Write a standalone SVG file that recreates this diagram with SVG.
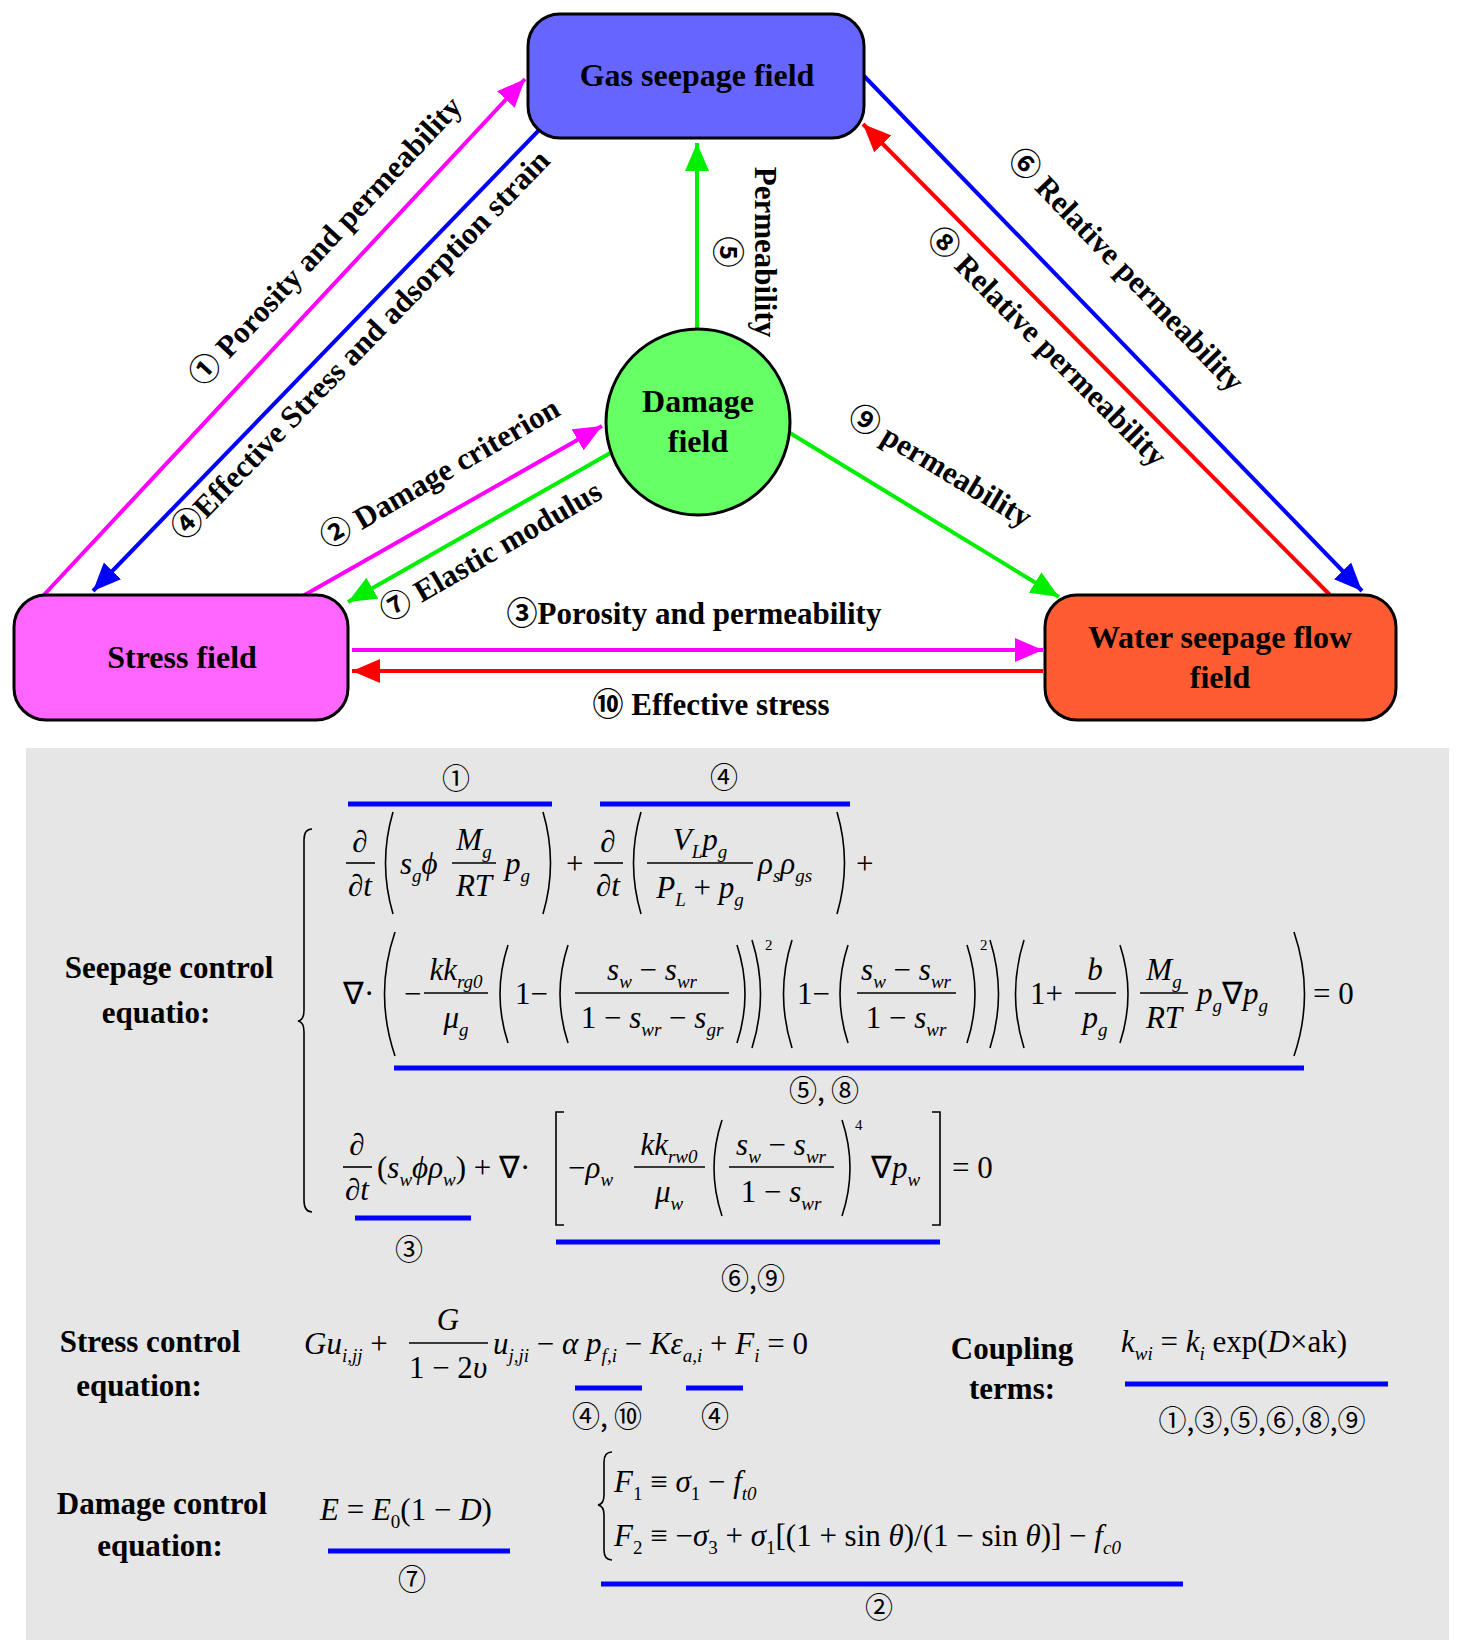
<svg xmlns="http://www.w3.org/2000/svg" width="1457" height="1649" viewBox="0 0 1457 1649">
<style>
.box{stroke:#000;stroke-width:3}
.t{font-family:"Liberation Serif","Noto Sans CJK SC",serif;font-weight:bold;fill:#000}
.nt{font-size:32px;text-anchor:middle}
.lb{font-size:31px;text-anchor:middle}
.m{font-family:"Liberation Serif",serif;font-style:italic;font-size:31px;fill:#000}
.r{font-style:normal}
.c{text-anchor:middle}
.bar{stroke:#000;stroke-width:1.6}
.dl{fill:none;stroke:#000;stroke-width:1.6}
.ul{stroke:#0000ff;stroke-width:5}
.n{font-family:"Noto Sans CJK SC",sans-serif;font-size:28px;fill:#000;text-anchor:middle}
.sub{font-size:19px}
.sup{font-family:"Liberation Serif",serif;font-size:15px;fill:#000}
</style>
<defs>
<marker id="aM" markerUnits="userSpaceOnUse" markerWidth="30" markerHeight="24" refX="28" refY="12" orient="auto"><path d="M0,0 L28,12 L0,24 z" fill="#ff00ff"/></marker>
<marker id="aB" markerUnits="userSpaceOnUse" markerWidth="30" markerHeight="24" refX="28" refY="12" orient="auto"><path d="M0,0 L28,12 L0,24 z" fill="#0000ff"/></marker>
<marker id="aR" markerUnits="userSpaceOnUse" markerWidth="30" markerHeight="24" refX="28" refY="12" orient="auto"><path d="M0,0 L28,12 L0,24 z" fill="#ff0000"/></marker>
<marker id="aG" markerUnits="userSpaceOnUse" markerWidth="30" markerHeight="24" refX="28" refY="12" orient="auto"><path d="M0,0 L28,12 L0,24 z" fill="#00ee00"/></marker>
</defs>
<rect width="1457" height="1649" fill="#fff"/>
<rect x="26" y="748" width="1423" height="892" fill="#e6e6e6"/>

<g id="connectors" stroke-width="4" fill="none">
<line x1="42" y1="597" x2="525" y2="79" stroke="#ff00ff" marker-end="url(#aM)"/>
<line x1="542" y1="127" x2="93" y2="591" stroke="#0000ff" marker-end="url(#aB)"/>
<line x1="301" y1="597" x2="602" y2="426" stroke="#ff00ff" marker-end="url(#aM)"/>
<line x1="612" y1="452" x2="348" y2="602" stroke="#00ee00" marker-end="url(#aG)"/>
<line x1="697" y1="329" x2="697" y2="143" stroke="#00ee00" marker-end="url(#aG)"/>
<line x1="790" y1="433" x2="1059" y2="597" stroke="#00ee00" marker-end="url(#aG)"/>
<line x1="864" y1="76" x2="1362" y2="591" stroke="#0000ff" marker-end="url(#aB)"/>
<line x1="1330" y1="595" x2="863" y2="124" stroke="#ff0000" marker-end="url(#aR)"/>
<line x1="352" y1="650" x2="1043" y2="650" stroke="#ff00ff" marker-end="url(#aM)"/>
<line x1="1043" y1="671" x2="352" y2="671" stroke="#ff0000" marker-end="url(#aR)"/>
</g>

<g id="gas"><rect class="box" x="528" y="14" width="336" height="124" rx="32" fill="#6666ff"/><text class="t nt" x="697" y="86">Gas seepage field</text></g>
<g id="stress"><rect class="box" x="14" y="595" width="334" height="125" rx="32" fill="#ff66ff"/><text class="t nt" x="182" y="668">Stress field</text></g>
<g id="water"><rect class="box" x="1045" y="595" width="351" height="125" rx="32" fill="#ff5c33"/><text class="t nt" x="1220" y="648">Water seepage flow</text><text class="t nt" x="1220" y="688">field</text></g>
<g id="damage"><ellipse class="box" cx="698" cy="422" rx="92" ry="93" fill="#66ff66"/><text class="t nt" x="698" y="412">Damage</text><text class="t nt" x="698" y="452">field</text></g>

<g id="labels">
<text class="t lb" transform="translate(333,248) rotate(-47)">① Porosity and permeability</text>
<text class="t lb" transform="translate(368,352) rotate(-46)">④Effective Stress and adsorption strain</text>
<text class="t lb" transform="translate(445,482) rotate(-30)">② Damage criterion</text>
<text class="t lb" transform="translate(496,560) rotate(-30)">⑦ Elastic modulus</text>
<text class="t lb" transform="translate(755,252) rotate(90)">Permeability</text>
<text class="t lb" transform="translate(717,252) rotate(90)">⑤</text>
<text class="t lb" transform="translate(1119,277) rotate(46)">⑥ Relative permeability</text>
<text class="t lb" transform="translate(1040,354) rotate(45)">⑧ Relative permeability</text>
<text class="t lb" transform="translate(935,475) rotate(31)">⑨ permeability</text>
<text class="t lb" x="694" y="624">③Porosity and permeability</text>
<text class="t lb" x="711" y="715">⑩ Effective stress</text>
</g>

<g id="eqlabels">
<text class="t lb" x="169" y="978">Seepage control</text>
<text class="t lb" x="156" y="1023">equatio:</text>
<text class="t lb" x="150" y="1352">Stress control</text>
<text class="t lb" x="139" y="1396">equation:</text>
<text class="t lb" x="162" y="1514">Damage control</text>
<text class="t lb" x="160" y="1556">equation:</text>
<text class="t lb" x="1012" y="1359">Coupling</text>
<text class="t lb" x="1012" y="1399">terms:</text>
</g>

<g id="equations">
<path class="dl" d="M312,829 Q304,829 304,840 L304,1010 Q304,1020 298,1021 Q304,1022 304,1032 L304,1200 Q304,1212 312,1212"/>
<text class="m r c" x="360" y="852">∂</text><line class="bar" x1="346" y1="863" x2="375" y2="863"/><text class="m c" x="360" y="896"><tspan class="r">∂</tspan>t</text>
<path class="dl" d="M393,812 Q378,863 393,914"/>
<text class="m" x="400" y="874">s<tspan class="sub" dy="8">g</tspan><tspan dy="-8">ϕ</tspan></text>
<text class="m c" x="474" y="850">M<tspan class="sub" dy="8">g</tspan></text><line class="bar" x1="452" y1="863" x2="496" y2="863"/><text class="m c" x="474" y="896">RT</text>
<text class="m" x="505" y="874">p<tspan class="sub" dy="8">g</tspan></text>
<path class="dl" d="M543,812 Q558,863 543,914"/>
<text class="m r" x="566" y="874">+</text>
<text class="m r c" x="608" y="852">∂</text><line class="bar" x1="594" y1="863" x2="623" y2="863"/><text class="m c" x="608" y="896"><tspan class="r">∂</tspan>t</text>
<path class="dl" d="M641,812 Q626,863 641,914"/>
<text class="m c" x="700" y="850">V<tspan class="sub" dy="8">L</tspan><tspan dy="-8">p</tspan><tspan class="sub" dy="8">g</tspan></text><line class="bar" x1="647" y1="863" x2="753" y2="863"/><text class="m c" x="700" y="898">P<tspan class="sub" dy="8">L</tspan><tspan class="r" dy="-8"> + </tspan>p<tspan class="sub" dy="8">g</tspan></text>
<text class="m" x="758" y="874">ρ<tspan class="sub" dy="8">s</tspan><tspan dy="-8">ρ</tspan><tspan class="sub" dy="8">gs</tspan></text>
<path class="dl" d="M837,812 Q852,863 837,914"/>
<text class="m r" x="856" y="874">+</text>
<text class="m r" x="343" y="1004">∇·</text>
<path class="dl" d="M395,932 Q374,994 395,1056"/>
<text class="m r" x="404" y="1004">−</text>
<text class="m c" x="456" y="980">kk<tspan class="sub" dy="8">rg0</tspan></text><line class="bar" x1="424" y1="993" x2="488" y2="993"/><text class="m c" x="456" y="1028">μ<tspan class="sub" dy="8">g</tspan></text>
<path class="dl" d="M508,945 Q492,994 508,1043"/>
<text class="m r" x="515" y="1004">1−</text>
<path class="dl" d="M568,945 Q552,994 568,1043"/>
<text class="m c" x="652" y="980">s<tspan class="sub" dy="8">w</tspan><tspan class="r" dy="-8"> − </tspan>s<tspan class="sub" dy="8">wr</tspan></text><line class="bar" x1="575" y1="993" x2="729" y2="993"/><text class="m c" x="652" y="1028"><tspan class="r">1 − </tspan>s<tspan class="sub" dy="8">wr</tspan><tspan class="r" dy="-8"> − </tspan>s<tspan class="sub" dy="8">gr</tspan></text>
<path class="dl" d="M737,945 Q753,994 737,1043"/>
<path class="dl" d="M752,940 Q769,994 752,1048"/>
<text class="sup" x="765" y="950">2</text>
<path class="dl" d="M792,940 Q775,994 792,1048"/>
<text class="m r" x="797" y="1004">1−</text>
<path class="dl" d="M848,945 Q832,994 848,1043"/>
<text class="m c" x="906" y="980">s<tspan class="sub" dy="8">w</tspan><tspan class="r" dy="-8"> − </tspan>s<tspan class="sub" dy="8">wr</tspan></text><line class="bar" x1="857" y1="993" x2="956" y2="993"/><text class="m c" x="906" y="1028"><tspan class="r">1 − </tspan>s<tspan class="sub" dy="8">wr</tspan></text>
<path class="dl" d="M967,945 Q983,994 967,1043"/>
<text class="sup" x="980" y="950">2</text>
<path class="dl" d="M990,940 Q1007,994 990,1048"/>
<path class="dl" d="M1024,940 Q1007,994 1024,1048"/>
<text class="m r" x="1030" y="1004">1+</text>
<text class="m c" x="1095" y="980">b</text><line class="bar" x1="1075" y1="993" x2="1116" y2="993"/><text class="m c" x="1095" y="1028">p<tspan class="sub" dy="8">g</tspan></text>
<path class="dl" d="M1120,945 Q1136,994 1120,1043"/>
<text class="m c" x="1164" y="980">M<tspan class="sub" dy="8">g</tspan></text><line class="bar" x1="1140" y1="993" x2="1188" y2="993"/><text class="m c" x="1164" y="1028">RT</text>
<text class="m" x="1197" y="1004">p<tspan class="sub" dy="8">g</tspan><tspan class="r" dy="-8">∇</tspan>p<tspan class="sub" dy="8">g</tspan></text>
<path class="dl" d="M1294,932 Q1315,994 1294,1056"/>
<text class="m r" x="1313" y="1004">= 0</text>
<text class="m r c" x="357" y="1155">∂</text><line class="bar" x1="343" y1="1167" x2="372" y2="1167"/><text class="m c" x="357" y="1200"><tspan class="r">∂</tspan>t</text>
<text class="m" x="377" y="1178"><tspan class="r">(</tspan>s<tspan class="sub" dy="8">w</tspan><tspan dy="-8">ϕρ</tspan><tspan class="sub" dy="8">w</tspan><tspan class="r" dy="-8">)</tspan><tspan class="r"> + ∇·</tspan></text>
<path class="dl" d="M564,1112 L556,1112 L556,1225 L564,1225"/>
<text class="m" x="568" y="1178"><tspan class="r">−</tspan>ρ<tspan class="sub" dy="8">w</tspan></text>
<text class="m c" x="669" y="1155">kk<tspan class="sub" dy="8">rw0</tspan></text><line class="bar" x1="634" y1="1167" x2="705" y2="1167"/><text class="m c" x="669" y="1202">μ<tspan class="sub" dy="8">w</tspan></text>
<path class="dl" d="M722,1120 Q706,1168 722,1216"/>
<text class="m c" x="781" y="1155">s<tspan class="sub" dy="8">w</tspan><tspan class="r" dy="-8"> − </tspan>s<tspan class="sub" dy="8">wr</tspan></text><line class="bar" x1="729" y1="1167" x2="834" y2="1167"/><text class="m c" x="781" y="1202"><tspan class="r">1 − </tspan>s<tspan class="sub" dy="8">wr</tspan></text>
<path class="dl" d="M842,1120 Q858,1168 842,1216"/>
<text class="sup" x="855" y="1130">4</text>
<text class="m" x="871" y="1178"><tspan class="r">∇</tspan>p<tspan class="sub" dy="8">w</tspan></text>
<path class="dl" d="M932,1112 L940,1112 L940,1225 L932,1225"/>
<text class="m r" x="952" y="1178">= 0</text>
<text class="m" x="304" y="1354">Gu<tspan class="sub" dy="8">i,jj</tspan><tspan class="r" dy="-8"> +</tspan></text>
<text class="m c" x="448" y="1330">G</text><line class="bar" x1="409" y1="1343" x2="488" y2="1343"/><text class="m c" x="448" y="1378"><tspan class="r">1 − 2</tspan>υ</text>
<text class="m" x="493" y="1354">u<tspan class="sub" dy="8">j,ji</tspan><tspan class="r" dy="-8"> − </tspan>α p<tspan class="sub" dy="8">f,i</tspan><tspan class="r" dy="-8"> − </tspan>Kε<tspan class="sub" dy="8">a,i</tspan><tspan class="r" dy="-8"> + </tspan>F<tspan class="sub" dy="8">i</tspan><tspan class="r" dy="-8"> = 0</tspan></text>
<text class="m" x="1121" y="1352">k<tspan class="sub" dy="8">wi</tspan><tspan class="r" dy="-8"> = </tspan>k<tspan class="sub" dy="8">i</tspan><tspan class="r" dy="-8"> exp(</tspan>D<tspan class="r">×ak)</tspan></text>
<text class="m" x="320" y="1520">E<tspan class="r"> = </tspan>E<tspan class="sub r" dy="8">0</tspan><tspan class="r" dy="-8">(1 − </tspan>D<tspan class="r">)</tspan></text>
<path class="dl" d="M612,1452 Q604,1452 604,1462 L604,1495 Q604,1504 598,1505 Q604,1506 604,1515 L604,1550 Q604,1560 612,1560"/>
<text class="m" x="614" y="1492">F<tspan class="sub r" dy="8">1</tspan><tspan class="r" dy="-8"> ≡ </tspan>σ<tspan class="sub r" dy="8">1</tspan><tspan class="r" dy="-8"> − </tspan>f<tspan class="sub" dy="8">t0</tspan></text>
<text class="m" x="614" y="1546">F<tspan class="sub r" dy="8">2</tspan><tspan class="r" dy="-8"> ≡ −</tspan>σ<tspan class="sub r" dy="8">3</tspan><tspan class="r" dy="-8"> + </tspan>σ<tspan class="sub r" dy="8">1</tspan><tspan class="r" dy="-8">[(1 + sin </tspan>θ<tspan class="r">)/(1 − sin </tspan>θ<tspan class="r">)] − </tspan>f<tspan class="sub" dy="8">c0</tspan></text>
</g>

<g id="underlines">
<line class="ul" x1="348" y1="804" x2="552" y2="804"/><text class="n" x="456" y="789">①</text>
<line class="ul" x1="600" y1="804" x2="850" y2="804"/><text class="n" x="724" y="788">④</text>
<line class="ul" x1="394" y1="1068" x2="1304" y2="1068"/><text class="n" x="824" y="1101">⑤, ⑧</text>
<line class="ul" x1="355" y1="1218" x2="471" y2="1218"/><text class="n" x="409" y="1260">③</text>
<line class="ul" x1="556" y1="1242" x2="940" y2="1242"/><text class="n" x="753" y="1289">⑥,⑨</text>
<line class="ul" x1="575" y1="1388" x2="642" y2="1388"/><text class="n" x="607" y="1427">④, ⑩</text>
<line class="ul" x1="686" y1="1388" x2="743" y2="1388"/><text class="n" x="715" y="1427">④</text>
<line class="ul" x1="1125" y1="1384" x2="1388" y2="1384"/><text class="n" x="1262" y="1431">①,③,⑤,⑥,⑧,⑨</text>
<line class="ul" x1="328" y1="1551" x2="510" y2="1551"/><text class="n" x="412" y="1590">⑦</text>
<line class="ul" x1="601" y1="1584" x2="1183" y2="1584"/><text class="n" x="879" y="1618">②</text>
</g>
</svg>
